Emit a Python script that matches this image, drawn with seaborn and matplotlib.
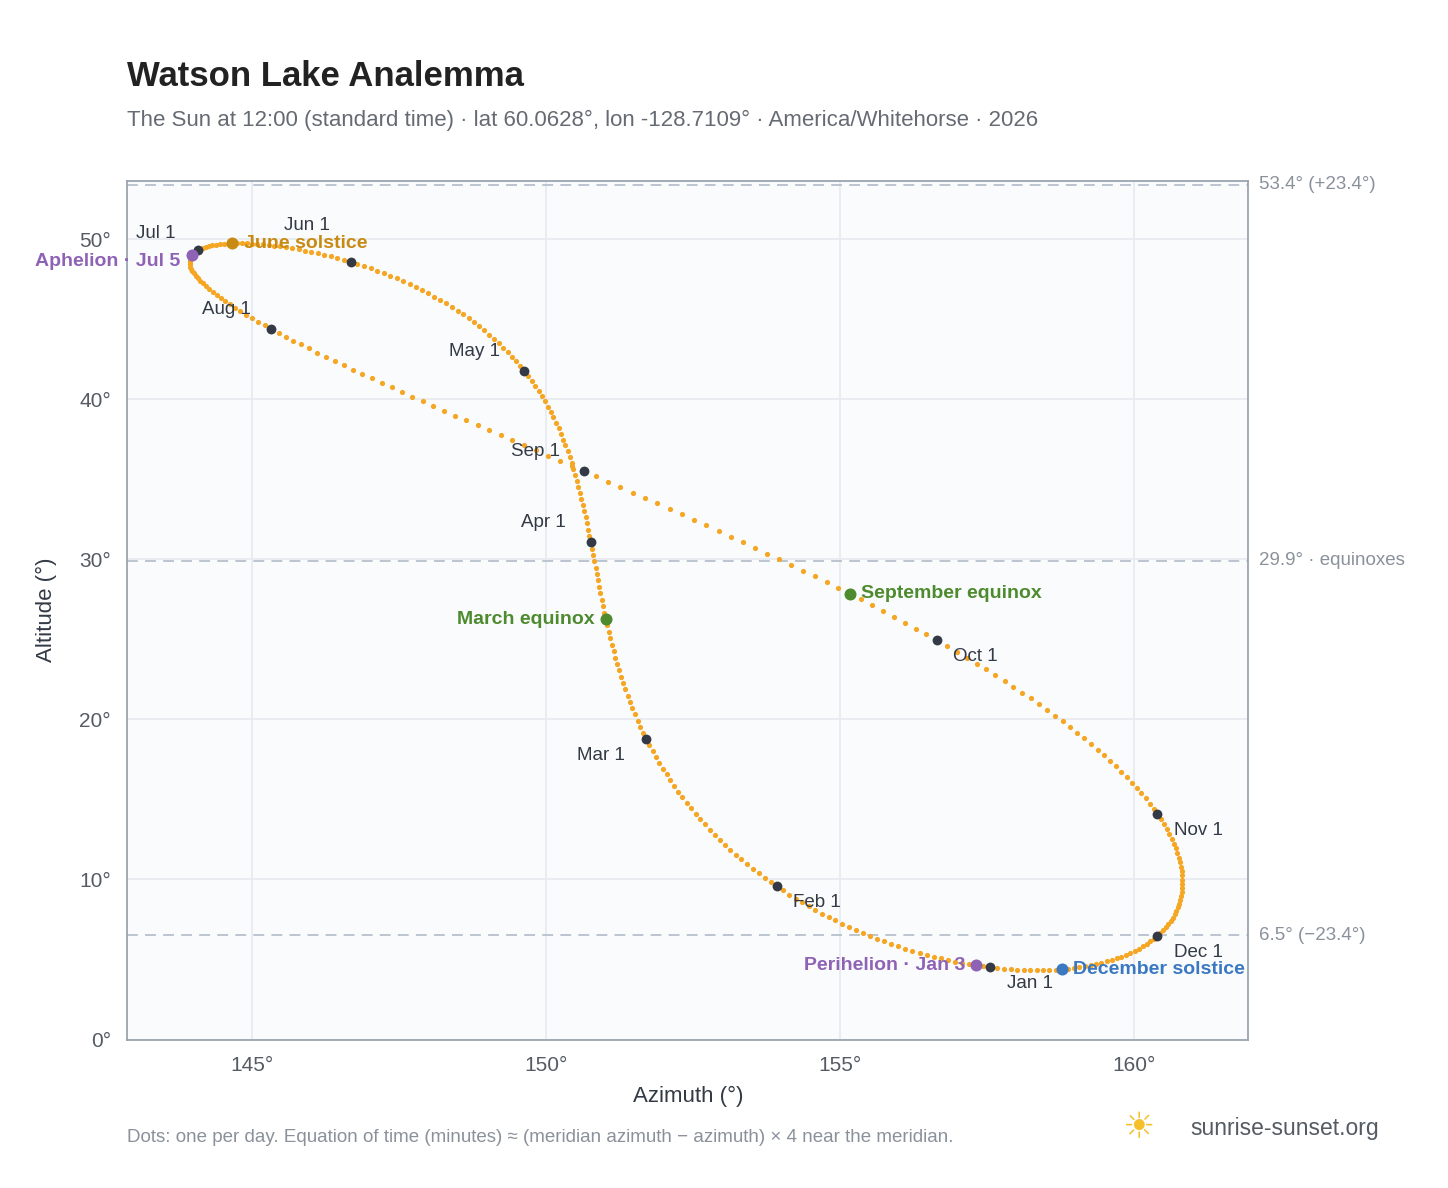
import numpy as np
import pandas as pd
import matplotlib
matplotlib.use("Agg")
import matplotlib.pyplot as plt
import seaborn as sns

LAT, LON, UTC_OFF = 60.0628, -128.7109, -7
YEAR = 2026

def sun_pos(day_of_year, hour_local):
    # NOAA solar position approximation
    g = 2 * np.pi / 365 * (day_of_year - 1 + (hour_local - 12) / 24)
    eot = 229.18 * (0.000075 + 0.001868 * np.cos(g) - 0.032077 * np.sin(g)
                    - 0.014615 * np.cos(2 * g) - 0.040849 * np.sin(2 * g))
    decl = (0.006918 - 0.399912 * np.cos(g) + 0.070257 * np.sin(g)
            - 0.006758 * np.cos(2 * g) + 0.000907 * np.sin(2 * g)
            - 0.002697 * np.cos(3 * g) + 0.00148 * np.sin(3 * g))
    tst = hour_local * 60 + eot + 4 * LON - 60 * UTC_OFF
    ha = np.radians(tst / 4 - 180)
    lat = np.radians(LAT)
    cz = np.sin(lat) * np.sin(decl) + np.cos(lat) * np.cos(decl) * np.cos(ha)
    zen = np.arccos(cz)
    alt = 90 - np.degrees(zen)
    az = np.degrees(np.arctan2(np.sin(ha), np.cos(ha) * np.sin(lat) - np.tan(decl) * np.cos(lat))) + 180
    return az, alt

days = pd.date_range(f"{YEAR}-01-01", f"{YEAR}-12-31")
doy = days.dayofyear.values
az, alt = sun_pos(doy, 12.0)
df = pd.DataFrame({"date": days, "az": az, "alt": alt})

month_labels = ["Jan 1", "Feb 1", "Mar 1", "Apr 1", "May 1", "Jun 1",
                "Jul 1", "Aug 1", "Sep 1", "Oct 1", "Nov 1", "Dec 1"]
label_offsets = [(12, -12), (12, -12), (-50, -12), (-50, 14), (-54, 14), (-48, 26),
                 (-45, 12), (-50, 14), (-52, 14), (12, -12), (12, -12), (12, -12)]
events = [("2026-03-20", "March equinox", "#4e8a2e", "right", 0),
          ("2026-06-21", "June solstice", "#c88a12", "left", 0),
          ("2026-09-23", "September equinox", "#4e8a2e", "left", 0),
          ("2026-12-21", "December solstice", "#3a78c2", "left", 0),
          ("2026-07-05", "Aphelion · Jul 5", "#8e63b5", "right", -4),
          ("2026-01-03", "Perihelion · Jan 3", "#8e63b5", "right", 0)]
ref_lines = [53.4, 29.9, 6.5]
ref_labels = ["53.4° (+23.4°)", "29.9° · equinoxes", "6.5° (−23.4°)"]

sns.set_theme(style="whitegrid")
plt.rcParams["font.family"] = ["Liberation Sans", "DejaVu Sans"]
fig = plt.figure(figsize=(14.48, 11.88), dpi=100)
ax = fig.add_axes([0.088, 0.125, 0.774, 0.723])
ax.set_facecolor("#f9fbfd")

for y, t in zip(ref_lines, ref_labels):
    ax.axhline(y, color="#b7c0cc", ls=(0, (6, 4)), lw=1.3, zorder=1)
    ax.text(1.01, y, t, transform=ax.get_yaxis_transform(), va="center",
            ha="left", fontsize=13.5, color="#8a919b")

sns.scatterplot(data=df, x="az", y="alt", color="#f5a623", s=14, linewidth=0, ax=ax, zorder=2)

firsts = df[df.date.dt.day == 1].reset_index(drop=True)
sns.scatterplot(data=firsts, x="az", y="alt", color="#333a45", s=50, linewidth=0, ax=ax, zorder=3)
for i, r in firsts.iterrows():
    dx, dy = label_offsets[i]
    ax.annotate(month_labels[i], (r.az, r.alt), xytext=(dx, dy), textcoords="offset points",
                fontsize=13.5, color="#333a45", va="center")

for d, name, col, side, dy in events:
    r = df[df.date == pd.Timestamp(d)].iloc[0]
    ax.scatter(r.az, r.alt, s=75, color=col, zorder=4, linewidth=0)
    dx = 8 if side == "left" else -8
    ax.annotate(name, (r.az, r.alt), xytext=(dx, dy), textcoords="offset points",
                ha=side, va="center", fontsize=14, fontweight="bold", color=col, zorder=5)

ax.set_xlim(142.89, 161.94)
ax.set_ylim(0, 53.65)
ax.set_xticks([145, 150, 155, 160])
ax.set_xticklabels([f"{v}°" for v in [145, 150, 155, 160]])
ax.set_yticks(range(0, 51, 10))
ax.set_yticklabels([f"{v}°" for v in range(0, 51, 10)])
ax.tick_params(labelsize=15, colors="#555b63", pad=6)
ax.grid(color="#e6eaef", lw=1.2)
for s in ax.spines.values():
    s.set_color("#9aa4b0")
    s.set_linewidth(1.3)
ax.set_xlabel("Azimuth (°)", fontsize=16, color="#333a45", labelpad=8)
ax.set_ylabel("Altitude (°)", fontsize=16, color="#333a45", labelpad=16)

fig.text(0.088, 0.928, "Watson Lake Analemma", fontsize=25, fontweight="bold", color="#222222")
fig.text(0.088, 0.894, "The Sun at 12:00 (standard time) · lat 60.0628°, lon -128.7109° · America/Whitehorse · 2026",
         fontsize=16, color="#666b73")
fig.text(0.088, 0.039, "Dots: one per day. Equation of time (minutes) ≈ (meridian azimuth − azimuth) × 4 near the meridian.",
         fontsize=13.5, color="#8a919b")
fig.text(0.822, 0.045, "sunrise-sunset.org", fontsize=16.5, color="#555b63")
fig.text(0.775, 0.042, "☀", fontsize=26, color="#f5c02a")

fig.savefig("out.png")
